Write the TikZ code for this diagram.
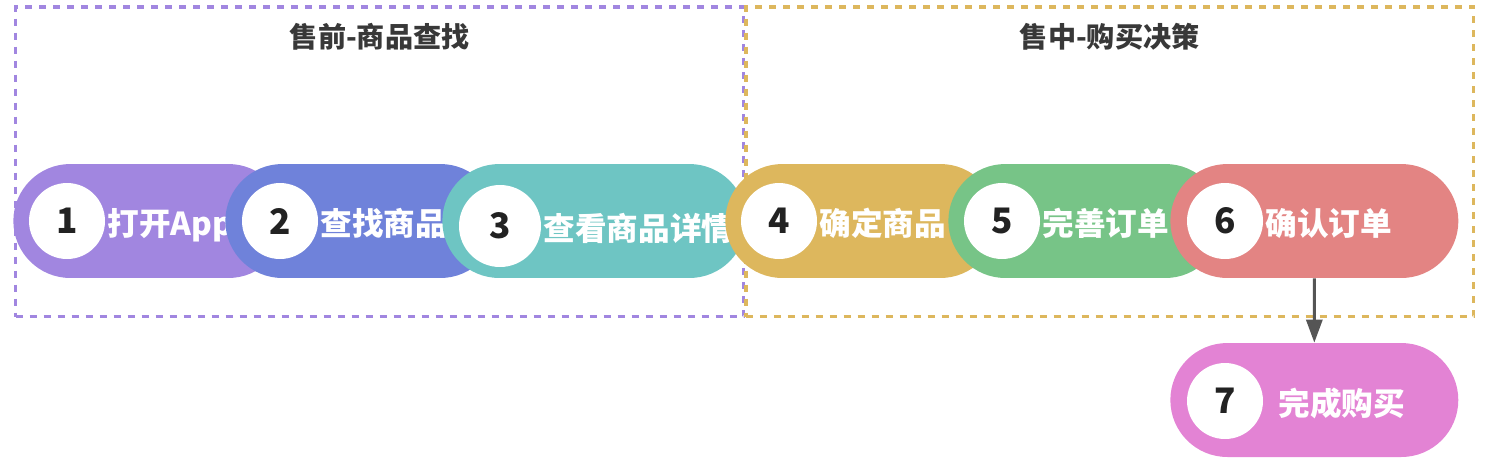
\documentclass[tikz,border=0pt]{standalone}
\usepackage{fontspec}
\setmainfont{Noto Sans CJK SC}
\usetikzlibrary{positioning,shapes.misc,arrows.meta}
\definecolor{col1}{RGB}{161,134,224}
\definecolor{col2}{RGB}{111,130,218}
\definecolor{col3}{RGB}{110,197,195}
\definecolor{col4}{RGB}{221,183,93}
\definecolor{col5}{RGB}{119,196,135}
\definecolor{col6}{RGB}{227,132,131}
\definecolor{col7}{RGB}{227,131,212}
\definecolor{ink}{RGB}{34,34,34}
\definecolor{arrowgray}{RGB}{85,85,85}
\begin{document}
\begin{tikzpicture}[x=0.02cm, y=-0.02cm,
  groupbox/.style={draw, line width=0.07cm, dash pattern=on 0.14cm off 0.14cm, inner sep=0pt},
  ttl/.style={font=\fontsize{16pt}{19pt}\selectfont\bfseries, text=ink!90},
  pill/.style={rounded rectangle, inner sep=0pt, minimum height=2.28cm},
  numc/.style={circle, fill=white, inner sep=0pt, text=ink, font=\fontsize{20pt}{24pt}\selectfont\bfseries},
  lbl/.style={text=white, inner sep=0pt, yshift=-0.15cm, text height=0.88em, text depth=0.12em, font=\fontsize{18pt}{21pt}\selectfont\bfseries},
  arr/.style={draw=arrowgray, line width=0.06cm, -{Triangle[length=0.46cm,width=0.32cm]}}]
  \useasboundingbox (0,0) rectangle (1491,461);
  % stage boxes
  \node[groupbox, draw=col1, anchor=north west, minimum width=14.56cm, minimum height=6.2cm] (g1) at (14,5) {};
  \node[groupbox, draw=col4, anchor=north west, minimum width=14.56cm, minimum height=6.2cm] (g2) at (744,5) {};
  \node[ttl] (h1) at ([yshift=-0.64cm]g1.north) {售前-商品查找};
  \node[ttl] (h2) at ([yshift=-0.64cm]g2.north) {售中-购买决策};
  % steps
  \foreach \i/\l/\w/\cx/\cy/\r/\txt in {1/13/272/67/221/38/打开App, 2/225/272/280/221/38/查找商品,
      3/442/304/500/226/41/查看商品详情, 4/725/272/779/221/38/确定商品,
      5/948/274/1002/221/38/完善订单, 6/1170/288/1225/221/38/确认订单} {
    \node[pill, fill=col\i, anchor=west, minimum width=\w*0.02cm] (p\i) at (\l,221) {};
    \node[numc, minimum size=2*\r*0.02cm] (c\i) at (\cx,\cy) {\i};
    \node[lbl, right=0.04cm of c\i] (t\i) {\txt};
  }
  \node[pill, fill=col7, anchor=west, minimum width=5.76cm] (p7) at (1170,400) {};
  \node[numc, minimum size=1.52cm] (c7) at (1225,401) {7};
  \node[lbl, right=0.3cm of c7] (t7) {完成购买};
  % flow
  \draw[arr] (p6.south) -- (p7.north);
\end{tikzpicture}
\end{document}
